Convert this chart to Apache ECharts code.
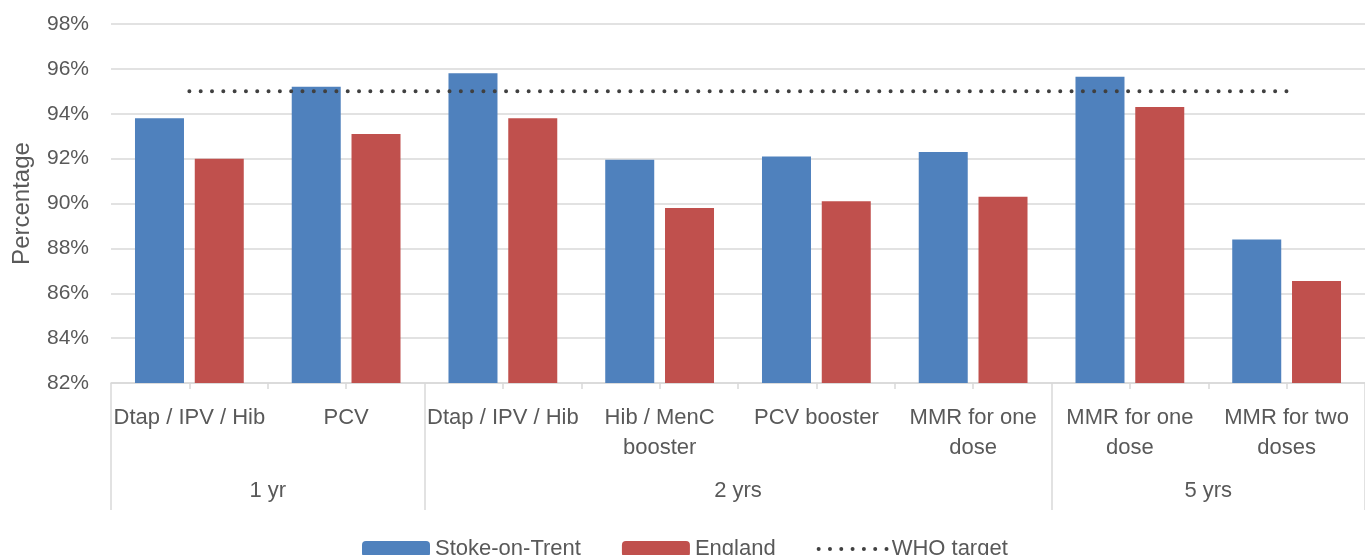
<!DOCTYPE html>
<html>
<head>
<meta charset="utf-8">
<script src="https://cdn.jsdelivr.net/npm/echarts@6/dist/echarts.min.js"></script>
<style>
  html, body { margin: 0; padding: 0; background: #fff; }
  #main { width: 1365px; height: 555px; }
</style>
</head>
<body>
<div id="main"></div>
<script>
// categories (vaccines) and their age groups
var categories = ["Dtap / IPV / Hib", "PCV", "Dtap / IPV / Hib", "Hib / MenC\nbooster",
                  "PCV booster", "MMR for one\ndose", "MMR for one\ndose", "MMR for two\ndoses"];
var groups = ["1 yr", "2 yrs", "5 yrs"];
var groupCenters = [1, 4, 7];
var groupBounds = [0, 2, 6, 8];

// series values (%)
var stoke = [93.8, 95.2, 95.8, 91.95, 92.1, 92.3, 95.65, 88.4];
var england = [92.0, 93.1, 93.8, 89.8, 90.1, 90.3, 94.3, 86.55];
var whoTarget = [95, 95, 95, 95, 95, 95, 95, 95];

var textColor = "#595959";
var lineColor = "#d9d9d9";
var font = "Liberation Sans";
var dotStyle = { color: "#404040", width: 4, type: [0.01, 11.3], cap: "round" };

var myChart = echarts.init(document.getElementById("main"));
var option = {
    animation: false,
    textStyle: { fontFamily: font },
    grid: { left: 111, right: -10, top: 24, bottom: 172 },
    legend: {
        left: 357,
        top: 533,
        itemWidth: 68,
        itemHeight: 16,
        itemGap: 41,
        textStyle: { fontSize: 22, color: textColor, fontFamily: font },
        data: [
            "Stoke-on-Trent",
            "England",
            { name: "WHO target", itemStyle: { opacity: 0 }, lineStyle: dotStyle }
        ]
    },
    xAxis: [
        {
            type: "category",
            data: categories,
            position: "bottom",
            axisLine: { lineStyle: { color: lineColor, width: 1.5 } },
            axisTick: { show: false },
            axisLabel: { interval: 0, fontSize: 22, color: textColor, margin: 20, lineHeight: 30 }
        },
        {
            // age group separators and labels
            type: "value",
            min: 0,
            max: 8,
            position: "bottom",
            axisLine: { show: false },
            splitLine: { show: false },
            axisTick: { show: true, customValues: groupBounds, length: 127, lineStyle: { color: lineColor, width: 1.5 } },
            axisLabel: {
                customValues: groupCenters,
                fontSize: 22,
                color: textColor,
                margin: 97,
                formatter: function (v) {
                    var i = groupCenters.indexOf(v);
                    return i >= 0 ? groups[i] : "";
                }
            }
        },
        {
            // small ticks every half category
            type: "value",
            min: 0,
            max: 8,
            interval: 0.5,
            position: "bottom",
            axisLine: { show: false },
            splitLine: { show: false },
            axisTick: { show: true, length: 6, lineStyle: { color: lineColor, width: 1.5 } },
            axisLabel: { show: false }
        }
    ],
    yAxis: {
        type: "value",
        min: 82,
        max: 98,
        interval: 2,
        name: "Percentage",
        nameLocation: "middle",
        nameRotate: 90,
        nameGap: 77,
        nameTextStyle: { fontSize: 24, color: textColor },
        axisLine: { show: false },
        axisTick: { show: false },
        axisLabel: { fontSize: 21, color: textColor, margin: 22, formatter: "{value}%" },
        splitLine: { lineStyle: { color: lineColor, width: 1.5 } }
    },
    series: [
        {
            name: "Stoke-on-Trent",
            type: "bar",
            data: stoke,
            barWidth: 49,
            barGap: "22%",
            itemStyle: { color: "#4f81bd" }
        },
        {
            name: "England",
            type: "bar",
            data: england,
            barWidth: 49,
            barGap: "22%",
            itemStyle: { color: "#c0504d" }
        },
        {
            name: "WHO target",
            type: "line",
            data: whoTarget,
            symbol: "none",
            z: 5,
            itemStyle: { color: "#404040" },
            lineStyle: dotStyle
        }
    ]
};
myChart.setOption(option);
</script>
</body>
</html>
